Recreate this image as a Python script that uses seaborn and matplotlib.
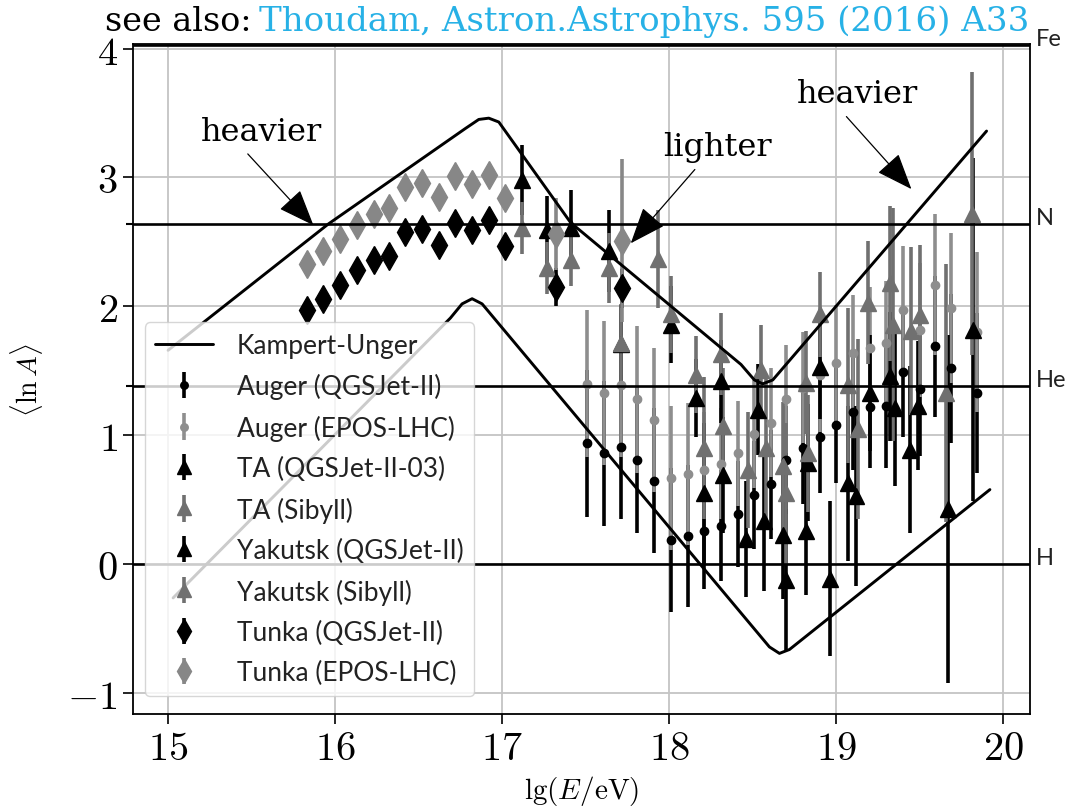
import numpy as np
import pandas as pd
import matplotlib
matplotlib.use("Agg")
import matplotlib.pyplot as plt
import matplotlib.transforms as mtransforms
from matplotlib.lines import Line2D
import seaborn as sns

# ---------------------------------------------------------------- data
# Kampert-Unger model envelopes of <ln A>
ku_upper_lgE = [15.00, 15.96, 16.78, 16.86, 16.92, 16.98, 17.41, 18.43, 18.51, 18.56, 18.62, 19.90]
ku_upper_lnA = [1.66, 2.64, 3.38, 3.45, 3.46, 3.43, 2.65, 1.55, 1.43, 1.40, 1.43, 3.36]
ku_lower_lgE = [15.03, 16.69, 16.76, 16.82, 16.88, 18.60, 18.66, 18.72, 19.92]
ku_lower_lnA = [-0.26, 1.91, 2.02, 2.06, 2.02, -0.64, -0.69, -0.66, 0.58]

# Reference nuclei
element_names = ["H", "He", "N", "Fe"]
element_lnA = [0.0, 1.386, 2.639, 4.025]

# Auger
auger_lgE = [17.51, 17.61, 17.71, 17.81, 17.91, 18.01, 18.11, 18.21, 18.31, 18.41, 18.51, 18.61,
             18.70, 18.80, 18.90, 19.00, 19.10, 19.20, 19.30, 19.40, 19.50, 19.59, 19.69, 19.84]
auger_qgs_lnA = [0.94, 0.86, 0.91, 0.81, 0.65, 0.19, 0.22, 0.26, 0.30, 0.39, 0.54, 0.62,
                 0.81, 0.90, 0.99, 1.08, 1.18, 1.22, 1.23, 1.49, 1.36, 1.69, 1.52, 1.33]
auger_epos_lnA = [1.40, 1.33, 1.39, 1.28, 1.12, 0.67, 0.70, 0.73, 0.78, 0.86, 1.01, 1.10,
                  1.28, 1.37, 1.47, 1.56, 1.64, 1.68, 1.72, 1.97, 1.82, 2.17, 1.99, 1.80]
auger_err = [0.57, 0.56, 0.56, 0.57, 0.56, 0.56, 0.55, 0.45, 0.43, 0.41, 0.42, 0.42,
             0.42, 0.43, 0.44, 0.45, 0.45, 0.47, 0.48, 0.50, 0.52, 0.55, 0.58, 0.62]

# Telescope Array
ta_qgs_lgE = [18.21, 18.32, 18.46, 18.57, 18.68, 18.70, 18.82, 18.83, 18.96, 19.07, 19.12,
              19.35, 19.44, 19.67, 19.82]
ta_qgs_lnA = [0.55, 0.69, 0.20, 0.34, 0.23, -0.12, 0.26, 0.79, -0.11, 0.63, 0.53,
              1.21, 0.89, 0.43, 1.82]
ta_qgs_err = [0.55, 0.45, 0.45, 0.55, 0.50, 0.55, 0.50, 0.45, 0.60, 0.60, 0.70,
              0.60, 0.65, 1.35, 1.33]
ta_sib_lgE = [18.21, 18.32, 18.47, 18.58, 18.68, 18.70, 18.83, 19.07, 19.13, 19.34, 19.45,
              19.66, 19.81]
ta_sib_lnA = [0.90, 1.07, 0.73, 0.90, 0.76, 0.55, 0.86, 1.39, 1.05, 1.86, 1.81, 1.33, 2.72]
ta_sib_err = [0.55, 0.45, 0.45, 0.55, 0.50, 0.55, 0.45, 0.60, 0.70, 0.90, 0.65, 1.00, 1.10]

# Yakutsk
yak_qgs_lgE = [17.12, 17.27, 17.41, 17.64, 17.71, 18.01, 18.16, 18.31, 18.53, 18.90, 19.20,
               19.32, 19.49]
yak_qgs_lnA = [2.98, 2.59, 2.61, 2.43, 1.71, 1.86, 1.29, 1.42, 1.20, 1.53, 1.33, 1.46, 1.23]
yak_qgs_err = [0.27, 0.27, 0.29, 0.32, 0.30, 0.30, 0.30, 0.32, 0.35, 0.40, 0.45, 0.50, 0.50]
yak_sib_lgE = [17.12, 17.27, 17.41, 17.64, 17.71, 17.93, 18.01, 18.16, 18.31, 18.55, 18.82,
               18.90, 19.19, 19.32, 19.50]
yak_sib_lnA = [2.61, 2.30, 2.36, 2.30, 1.72, 2.37, 1.94, 1.47, 1.63, 1.51, 1.41, 1.94, 2.03,
               2.18, 1.93]
yak_sib_err = [0.20, 0.20, 0.20, 0.27, 0.30, 0.38, 0.30, 0.30, 0.32, 0.35, 0.40, 0.33, 0.48,
               0.60, 0.55]

# Tunka-133
tunka_lgE = [15.83, 15.93, 16.03, 16.13, 16.23, 16.32, 16.42, 16.52, 16.62, 16.72, 16.82,
             16.92, 17.02, 17.32, 17.72]
tunka_qgs_lnA = [1.97, 2.06, 2.17, 2.28, 2.36, 2.39, 2.58, 2.60, 2.48, 2.65, 2.59, 2.67,
                 2.47, 2.15, 2.14]
tunka_qgs_err = [0.02, 0.02, 0.02, 0.02, 0.02, 0.02, 0.02, 0.02, 0.02, 0.02, 0.02, 0.02,
                 0.02, 0.15, 0.15]
tunka_epos_lnA = [2.33, 2.43, 2.52, 2.63, 2.72, 2.76, 2.93, 2.96, 2.85, 3.01, 2.95, 3.02,
                  2.84, 2.56, 2.51]
tunka_epos_err = [0.02, 0.02, 0.02, 0.02, 0.02, 0.02, 0.02, 0.02, 0.02, 0.02, 0.02, 0.02,
                  0.02, 0.28, 0.63]

# ---------------------------------------------------------------- style
sns.set_theme(style="whitegrid", rc={
    "axes.edgecolor": "black",
    "axes.linewidth": 1.3,
    "grid.color": "#c4c4c4",
    "grid.linewidth": 1.3,
    "xtick.bottom": True,
    "ytick.left": True,
    "text.color": "black",
    "axes.labelcolor": "black",
    "xtick.color": "black",
    "ytick.color": "black",
})
plt.rcParams["font.family"] = ["Lato", "DejaVu Sans"]
plt.rcParams["mathtext.fontset"] = "cm"

W, H = 1083, 812
fig = plt.figure(figsize=(W / 100, H / 100), dpi=100)
ax = fig.add_axes([133 / W, (H - 715) / H, 897 / W, 670 / H])

# Kampert-Unger band
ku = pd.DataFrame({
    "lgE": ku_upper_lgE + ku_lower_lgE,
    "lnA": ku_upper_lnA + ku_lower_lnA,
    "branch": ["upper"] * len(ku_upper_lgE) + ["lower"] * len(ku_lower_lgE),
})
sns.lineplot(data=ku, x="lgE", y="lnA", units="branch", estimator=None, sort=False,
             color="black", lw=2.1, ax=ax, legend=False, zorder=4)

for v in element_lnA:
    ax.axhline(v, color="black", lw=1.9, zorder=3)

# measurements
GREY_TRI = "#707070"
GREY_DOT = "#8e8e8e"
GREY_DIA = "#878787"
common = dict(ls="none", capsize=0, elinewidth=2.6, zorder=2)

eb_aq = ax.errorbar(auger_lgE, auger_qgs_lnA, yerr=auger_err, fmt="o", ms=6,
                    color="black", **common)
eb_ae = ax.errorbar(auger_lgE, auger_epos_lnA, yerr=auger_err, fmt="o", ms=6,
                    color=GREY_DOT, **common)
eb_tq = ax.errorbar(ta_qgs_lgE, ta_qgs_lnA, yerr=ta_qgs_err, fmt="^", ms=11.5,
                    color="black", **common)
eb_ts = ax.errorbar(ta_sib_lgE, ta_sib_lnA, yerr=ta_sib_err, fmt="^", ms=11.5,
                    color=GREY_TRI, **common)
eb_yq = ax.errorbar(yak_qgs_lgE, yak_qgs_lnA, yerr=yak_qgs_err, fmt="^", ms=11.5,
                    color="black", **common)
eb_ys = ax.errorbar(yak_sib_lgE, yak_sib_lnA, yerr=yak_sib_err, fmt="^", ms=11.5,
                    color=GREY_TRI, **common)
eb_kq = ax.errorbar(tunka_lgE, tunka_qgs_lnA, yerr=tunka_qgs_err, fmt="d", ms=14,
                    color="black", **common)
eb_ke = ax.errorbar(tunka_lgE, tunka_epos_lnA, yerr=tunka_epos_err, fmt="d", ms=14,
                    color=GREY_DIA, **common)

# ---------------------------------------------------------------- axes
ax.set_xlim(14.79, 20.16)
ax.set_ylim(-1.16, 4.035)
xt = [15, 16, 17, 18, 19, 20]
yt = [-1, 0, 1, 2, 3, 4]
ax.set_xticks(xt)
ax.set_xticklabels([f"${v}$" for v in xt], fontsize=29)
ax.set_yticks(yt)
ax.set_yticklabels([f"${v}$" if v >= 0 else f"$-{abs(v)}$" for v in yt], fontsize=29)
ax.set_yticks([element_lnA[1], element_lnA[2]], minor=True)
ax.tick_params(axis="both", which="major", direction="out", length=7, width=1.2,
               color="black", pad=4)
ax.tick_params(axis="y", which="minor", direction="out", length=5, width=1.5,
               color="black")
ax.grid(True, which="major")
ax.grid(False, which="minor")
for s in ax.spines.values():
    s.set_color("black")
    s.set_linewidth(1.3)

ax.set_xlabel(r"$\mathrm{lg}(E/\mathrm{eV})$", fontsize=21)
ax.xaxis.set_label_coords(0.5, -0.088)
ax.set_ylabel(r"$\langle \ln A\rangle$", fontsize=20)
ax.yaxis.set_label_coords(-0.098, 0.5)

# element labels on the right
trans = mtransforms.blended_transform_factory(ax.transAxes, ax.transData)
for name, v in zip(element_names, element_lnA):
    ax.text(1.006, v, name, transform=trans, ha="left", va="baseline", fontsize=17,
            color="#222222")

# annotations
arrow = dict(arrowstyle="-|>,head_length=1.15,head_width=0.45", color="black", lw=0.9,
             mutation_scale=20, shrinkA=4, shrinkB=0)
serif = ["DejaVu Serif"]
ax.annotate("heavier", xy=(15.87, 2.63), xytext=(15.56, 3.36), ha="center", va="center",
            fontsize=23, family=serif, arrowprops=dict(arrow, relpos=(0.33, 0.0)))
ax.annotate("lighter", xy=(17.77, 2.49), xytext=(18.29, 3.24), ha="center", va="center",
            fontsize=23, family=serif, arrowprops=dict(arrow, relpos=(0.35, 0.0)))
ax.annotate("heavier", xy=(19.45, 2.91), xytext=(19.13, 3.65), ha="center", va="center",
            fontsize=23, family=serif, arrowprops=dict(arrow, relpos=(0.35, 0.0)))

# legend
ku_handle = Line2D([], [], color="black", lw=2.1)
handles = [ku_handle, eb_aq, eb_ae, eb_tq, eb_ts, eb_yq, eb_ys, eb_kq, eb_ke]
labels = ["Kampert-Unger", "Auger (QGSJet-II)", "Auger (EPOS-LHC)", "TA (QGSJet-II-03)",
          "TA (Sibyll)", "Yakutsk (QGSJet-II)", "Yakutsk (Sibyll)", "Tunka (QGSJet-II)",
          "Tunka (EPOS-LHC)"]
leg = ax.legend(handles, labels, loc="lower left", bbox_to_anchor=(0.013, 0.027),
                borderaxespad=0, fontsize=19, frameon=True, fancybox=True,
                framealpha=0.8, edgecolor="#cccccc", handlelength=2.2,
                handletextpad=0.9, labelspacing=0.58, borderpad=0.4, markerscale=0.9)
for t in leg.get_texts():
    t.set_color("#222222")

# header line
fig.text(105 / W, 1 - 31 / H, "see also:", fontsize=24, family=serif, color="black",
         va="baseline", ha="left")
fig.text(259 / W, 1 - 31 / H, "Thoudam, Astron.Astrophys. 595 (2016) A33", fontsize=24.5,
         family=serif, color="#27b1e6", va="baseline", ha="left")

fig.savefig("out.png", dpi=100)
